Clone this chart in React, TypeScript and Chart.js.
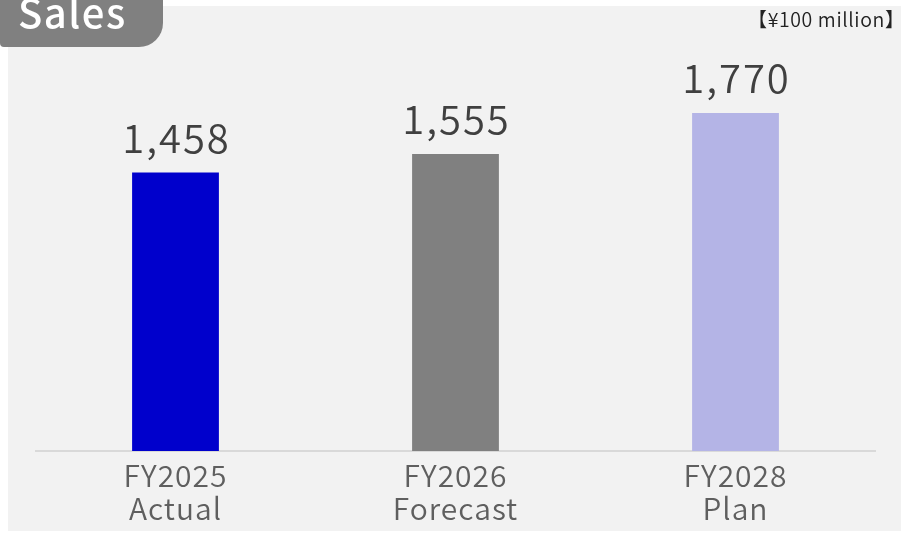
import React, { useEffect, useRef } from "react";
import { Chart, registerables } from "chart.js";

Chart.register(...registerables);

const categories: string[][] = [
  ["FY2025", "Actual"],
  ["FY2026", "Forecast"],
  ["FY2028", "Plan"],
];
const salesValues: number[] = [1458, 1555, 1770];
const barColors: string[] = ["#0000cc", "#808080", "#b4b4e6"];
const title = "Sales";
const unitLabel = "【¥100 million】";

const FONT = "'Noto Sans CJK JP', 'Noto Sans', sans-serif";

export default function App() {
  const ref = useRef<HTMLCanvasElement | null>(null);

  useEffect(() => {
    const canvas = ref.current;
    if (!canvas) return;
    const spacing = {
      id: "spacing",
      beforeDraw(chart: any) {
        (chart.ctx as any).letterSpacing = "1px";
      },
    };
    const valueLabels = {
      id: "valueLabels",
      afterDatasetsDraw(chart: any) {
        const ctx = chart.ctx;
        const meta = chart.getDatasetMeta(0);
        ctx.save();
        ctx.font = `350 40px ${FONT}`;
        (ctx as any).letterSpacing = "2px";
        ctx.fillStyle = "#404040";
        ctx.textAlign = "center";
        ctx.textBaseline = "alphabetic";
        meta.data.forEach((bar: any, i: number) => {
          const v = chart.data.datasets[0].data[i] as number;
          ctx.fillText(v.toLocaleString("en-US"), bar.x + 1, bar.y - 20);
        });
        ctx.restore();
      },
    };
    const chart = new Chart(canvas, {
      type: "bar",
      data: {
        labels: categories,
        datasets: [
          {
            data: salesValues,
            backgroundColor: barColors,
            borderWidth: 0,
            categoryPercentage: 1,
            barPercentage: 0.31,
          },
        ],
      },
      options: {
        animation: false,
        responsive: false,
        maintainAspectRatio: false,
        layout: { padding: { left: 35.5, right: 25.5, top: 69, bottom: 0 } },
        plugins: { legend: { display: false }, tooltip: { enabled: false } },
        scales: {
          x: {
            grid: { display: false, drawTicks: false },
            border: { display: true, color: "#d9d9d9", width: 2 },
            ticks: {
              color: "#5f5f5f",
              font: { family: FONT, size: 30, weight: 350, lineHeight: 1.1 },
              padding: 8,
              maxRotation: 0,
            },
          },
          y: {
            display: false,
            min: 0,
            max: 2000,
          },
        },
      },
      plugins: [spacing, valueLabels],
    });
    return () => chart.destroy();
  }, []);

  return (
    <div style={{ position: "absolute", left: 0, top: 0, width: 901, height: 533, overflow: "hidden", fontFamily: FONT }}>
      <div style={{ position: "absolute", left: 8, top: 6, width: 893, height: 525, background: "#f2f2f2" }} />
      <canvas ref={ref} width={901} height={533} style={{ position: "absolute", left: 0, top: 0, width: 901, height: 533 }} />
      <div
        style={{
          position: "absolute",
          left: 0,
          top: -20,
          width: 163,
          height: 67,
          background: "#808080",
          borderRadius: "0 0 24px 4px",
        }}
      />
      <div
        style={{
          position: "absolute",
          left: 18,
          top: -14,
          color: "#ffffff",
          fontSize: 40,
          fontWeight: 500,
          lineHeight: "50px",
          letterSpacing: "1.5px",
          whiteSpace: "nowrap",
        }}
      >
        {title}
      </div>
      <div
        style={{
          position: "absolute",
          right: -4,
          top: 6,
          color: "#222222",
          fontSize: 19.5,
          fontWeight: 350,
          lineHeight: "26px",
          letterSpacing: "0.6px",
          whiteSpace: "nowrap",
        }}
      >
        {unitLabel}
      </div>
    </div>
  );
}
